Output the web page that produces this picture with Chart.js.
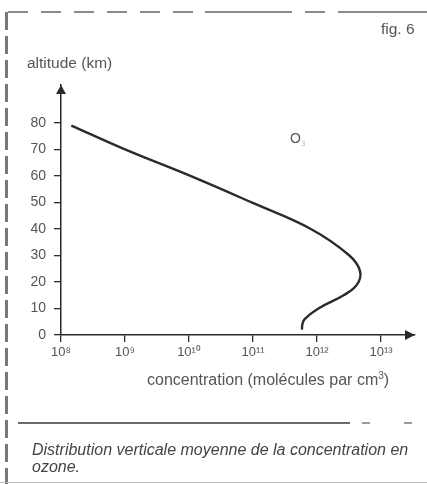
<!DOCTYPE html>
<html>
<head>
<meta charset="utf-8">
<script src="https://cdn.jsdelivr.net/npm/chart.js@4/dist/chart.umd.min.js"></script>
<style>
  html, body { margin: 0; padding: 0; background: #fff; }
  #page { position: relative; width: 427px; height: 484px; overflow: hidden; font-family: "Liberation Sans", Arial, sans-serif; color: #555; }
  #chartBox { position: absolute; left: 0; top: 0; width: 427px; height: 484px; }
  .txt { position: absolute; white-space: nowrap; line-height: 18px; }
  #fig { left: 381px; top: 20px; font-size: 15.5px; }
  #ylab { left: 27px; top: 54px; font-size: 15.5px; }
  #xlab { left: 147px; top: 371px; font-size: 16px; }
  #xlab sup { font-size: 10px; line-height: 0; }
  #caption { left: 32px; top: 442px; font-size: 16px; font-style: italic; color: #444; line-height: 16.5px; }
  .hline { position: absolute; height: 2px; }
  .vline { position: absolute; width: 3px; }
  #topLine { left: 8px; right: 0; top: 11px; background: repeating-linear-gradient(90deg, #8a8a8a 0 20px, transparent 20px 33px); }
  #topSolid { left: 205px; width: 85px; top: 11px; background: #8a8a8a; }
  #topSolid2 { left: 340px; right: 0; top: 11px; background: #8a8a8a; }
  #leftLine { left: 5px; top: 12px; bottom: 0; background: repeating-linear-gradient(180deg, #777 0 18px, transparent 18px 24px); }
  #sepLine { left: 18px; width: 332px; top: 422px; background: #6a6a6a; }
  #sepDash { left: 362px; right: 0; top: 422px; background: repeating-linear-gradient(90deg, #999 0 8px, transparent 8px 42px); }
  #botLine { left: 0; right: 0; top: 482px; height: 1px; background: #bbb; }
</style>
</head>
<body>
<div id="page">
  <div id="chartBox"><canvas id="ozone" width="427" height="484"></canvas></div>
  <div class="hline" id="topLine"></div>
  <div class="hline" id="topSolid"></div>
  <div class="hline" id="topSolid2"></div>
  <div class="vline" id="leftLine"></div>
  <div class="hline" id="sepLine"></div>
  <div class="hline" id="sepDash"></div>
  <div class="hline" id="botLine"></div>
  <div class="txt" id="fig">fig. 6</div>
  <div class="txt" id="ylab">altitude (km)</div>
  <div class="txt" id="xlab">concentration (molécules par cm<sup>3</sup>)</div>
  <div class="txt" id="caption">Distribution verticale moyenne de la concentration en<br>ozone.</div>
</div>
<script>
// altitude (km) and ozone concentration (molecules / cm3)
const altitudes = [79, 70, 60, 50, 40, 30, 24, 19, 15, 10, 6, 4, 2];
const concentrations = [1.45e8, 1.0e9, 1.05e10, 9.5e10, 8.0e11, 3.2e12, 4.7e12, 4.2e12, 2.6e12, 1.05e12, 6.4e11, 5.9e11, 5.8e11];

const xTicks = [1e8, 1e9, 1e10, 1e11, 1e12, 1e13];
const xTickLabels = ["10⁸", "10⁹", "10¹⁰", "10¹¹", "10¹²", "10¹³"];
const yTicks = [0, 10, 20, 30, 40, 50, 60, 70, 80];

const xMax = Math.pow(10, 13.53);
const yMax = 94.3;

const label = { text: "O", sub: "3", conc: Math.pow(10, 11.67), alt: 74 };

const ink = "#2a2a2a";

const arrows = {
  id: "arrows",
  afterDraw(chart) {
    const { ctx, chartArea: a } = chart;
    ctx.save();
    ctx.fillStyle = ink;
    // x arrow
    ctx.beginPath();
    ctx.moveTo(a.right, a.bottom);
    ctx.lineTo(a.right - 10, a.bottom - 5);
    ctx.lineTo(a.right - 10, a.bottom + 5);
    ctx.closePath();
    ctx.fill();
    // y arrow
    ctx.beginPath();
    ctx.moveTo(a.left, a.top);
    ctx.lineTo(a.left - 5, a.top + 9);
    ctx.lineTo(a.left + 5, a.top + 9);
    ctx.closePath();
    ctx.fill();
    // O3 label
    const x = chart.scales.x.getPixelForValue(label.conc);
    const y = chart.scales.y.getPixelForValue(label.alt);
    ctx.fillStyle = "#555";
    ctx.font = "14px 'Liberation Sans', Arial, sans-serif";
    ctx.textBaseline = "middle";
    ctx.fillText(label.text, x - 6, y);
    ctx.fillStyle = "#bbb";
    ctx.font = "8px 'Liberation Sans', Arial, sans-serif";
    ctx.fillText(label.sub, x + 5, y + 5);
    ctx.restore();
  },
};

new Chart(document.getElementById("ozone"), {
  type: "scatter",
  data: {
    datasets: [
      {
        data: concentrations.map((c, i) => ({ x: c, y: altitudes[i] })),
        showLine: true,
        borderColor: ink,
        borderWidth: 2.4,
        pointRadius: 0,
        tension: 0.4,
        fill: false,
      },
    ],
  },
  options: {
    responsive: false,
    animation: false,
    layout: { padding: { top: 85, right: 12, left: 0, bottom: 0 } },
    plugins: { legend: { display: false }, tooltip: { enabled: false } },
    scales: {
      x: {
        type: "logarithmic",
        min: 1e8,
        max: xMax,
        afterBuildTicks: (s) => { s.ticks = xTicks.map((v) => ({ value: v })); },
        afterFit: (s) => { s.height = 484 - 335; },
        ticks: {
          color: "#555",
          font: { size: 13, family: "'Liberation Sans', Arial, sans-serif" },
          padding: 3,
          maxRotation: 0,
          autoSkip: false,
          callback: (v) => xTickLabels[xTicks.indexOf(v)] ?? "",
        },
        grid: { drawOnChartArea: false, color: ink, tickLength: 7, lineWidth: 1.3 },
        border: { color: ink, width: 1.5 },
      },
      y: {
        min: 0,
        max: yMax,
        afterBuildTicks: (s) => { s.ticks = yTicks.map((v) => ({ value: v })); },
        afterFit: (s) => { s.width = 61; },
        ticks: {
          color: "#555",
          font: { size: 14, family: "'Liberation Sans', Arial, sans-serif" },
          padding: 8,
        },
        grid: { drawOnChartArea: false, color: ink, tickLength: 7, lineWidth: 1.3 },
        border: { color: ink, width: 1.5 },
      },
    },
  },
  plugins: [arrows],
});
</script>
</body>
</html>
